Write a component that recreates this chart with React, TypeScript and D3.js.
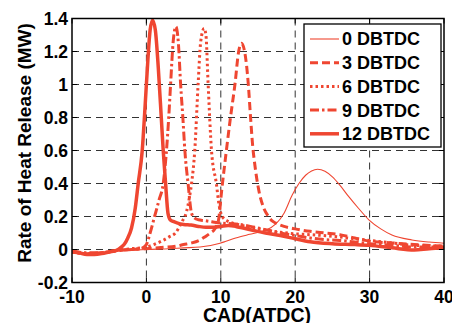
import React from "react";
import * as d3 from "d3";

const W = 452;
const H = 323;

const xTicks = [-10, 0, 10, 20, 30, 40];
const yTicks = [-0.2, 0, 0.2, 0.4, 0.6, 0.8, 1, 1.2, 1.4];
const yTickLabels = ["-0.2", "0", "0.2", "0.4", "0.6", "0.8", "1", "1.2", "1.4"];

const seriesNames = ["0 DBTDC", "3 DBTDC", "6 DBTDC", "9 DBTDC", "12 DBTDC"];

const s0: [number, number][] = [
  [-10, -0.02], [-8, -0.03], [-6, -0.025], [-4, -0.01], [-2, -0.005], [0, 0.0], [3, 0.005],
  [5, 0.01], [7.2, 0.015], [9.9, 0.038], [10.7, 0.05], [12, 0.07], [13.9, 0.092], [15.1, 0.105],
  [16.1, 0.118], [17.4, 0.155], [18.5, 0.22], [19.6, 0.33], [20.5, 0.4], [21.4, 0.45],
  [22.2, 0.476], [23, 0.486], [24, 0.474], [25, 0.44], [26, 0.39], [27.2, 0.32], [28.5, 0.25],
  [29.9, 0.18], [31.5, 0.125], [33, 0.088], [35.7, 0.058], [38, 0.045], [40, 0.038],
];

const s3: [number, number][] = [
  [-10, -0.015], [-8, -0.025], [-6, -0.02], [-4, -0.008], [-2, 0.0], [0, 0.005], [2, 0.012],
  [4, 0.02], [5, 0.03], [6.1, 0.04], [7.2, 0.058], [7.9, 0.078], [8.6, 0.1], [9.2, 0.125],
  [9.7, 0.18], [10.1, 0.35], [10.75, 0.6], [11.3, 0.8], [11.9, 1.0], [12.4, 1.2], [12.78, 1.25],
  [13.2, 1.2], [13.7, 1.0], [14.0, 0.8], [14.3, 0.62], [14.5, 0.54], [15.1, 0.36], [15.7, 0.26],
  [16.4, 0.2], [17.0, 0.17], [17.6, 0.155], [18.5, 0.14], [20, 0.125], [22, 0.11], [24, 0.1],
  [26, 0.09], [28, 0.07], [30, 0.05], [33, 0.04], [36, 0.03], [40, 0.02],
];

const s6: [number, number][] = [
  [-10, -0.015], [-8, -0.025], [-6, -0.02], [-4, -0.005], [-2, 0.005], [0, 0.015], [1, 0.03],
  [2, 0.05], [3, 0.075], [3.9, 0.1], [4.8, 0.17], [5.4, 0.23], [5.8, 0.32], [6.07, 0.4],
  [6.5, 0.6], [6.95, 1.0], [7.3, 1.26], [7.76, 1.34], [8.0, 1.3], [8.3, 1.0], [8.75, 0.6],
  [9.4, 0.4], [9.8, 0.26], [10.2, 0.2], [11, 0.17], [12, 0.155], [14, 0.135], [16, 0.118],
  [18, 0.105], [20, 0.095], [22, 0.09], [25, 0.08], [28, 0.065], [30, 0.055], [33, 0.04],
  [36, 0.025], [40, 0.02],
];

const s9: [number, number][] = [
  [-10, -0.01], [-8, -0.02], [-6, -0.02], [-4, -0.005], [-2, 0.0], [-1, 0.005], [-0.5, 0.01],
  [0, 0.03], [0.5, 0.1], [1.1, 0.2], [1.7, 0.3], [2.26, 0.4], [2.7, 0.6], [3.0, 0.8],
  [3.25, 1.0], [3.6, 1.26], [3.96, 1.35], [4.3, 1.25], [4.6, 1.0], [4.9, 0.8], [5.17, 0.6],
  [5.6, 0.4], [6.07, 0.22], [6.5, 0.19], [7, 0.18], [7.8, 0.175], [8.8, 0.168], [10, 0.16],
  [12, 0.155], [14, 0.14], [16, 0.12], [18, 0.1], [20, 0.085], [22, 0.07], [24, 0.06],
  [26, 0.055], [28, 0.045], [30, 0.035], [33, 0.025], [36, 0.015], [40, 0.015],
];

const s12: [number, number][] = [
  [-10, -0.01], [-9, -0.02], [-8, -0.03], [-7, -0.03], [-6, -0.025], [-5, -0.015], [-4, -0.005],
  [-3.5, 0.01], [-3, 0.03], [-2.5, 0.07], [-2, 0.13], [-1.5, 0.25], [-1.1, 0.4], [-0.56, 0.6],
  [-0.2, 0.85], [0.2, 1.15], [0.5, 1.33], [0.83, 1.39], [1.2, 1.33], [1.6, 1.1], [2.0, 0.8],
  [2.26, 0.6], [2.58, 0.4], [2.9, 0.22], [3.2, 0.18], [3.6, 0.17], [4.2, 0.16], [5, 0.152],
  [6, 0.148], [7, 0.14], [8, 0.135], [9, 0.135], [10, 0.14], [11, 0.145], [12, 0.14],
  [13, 0.13], [14, 0.12], [16, 0.1], [18, 0.085], [20, 0.065], [22, 0.047], [25, 0.035],
  [28, 0.03], [30, 0.025], [33, 0.01], [36, -0.003], [38, 0.005], [40, 0.01],
];

const seriesData = [s0, s3, s6, s9, s12];

const COLOR = "#ef4631";
const styles = [
  { width: 1.1, dash: "none" },
  { width: 3, dash: "8,4" },
  { width: 3, dash: "2.5,3" },
  { width: 3, dash: "9,3,2.5,3" },
  { width: 3.5, dash: "none" },
];

const L = 72, R = 444, T = 18.5, B = 282.5;
const FONT = "'Liberation Sans', Arial, sans-serif";

export default function App() {
  const x = d3.scaleLinear().domain([-10, 40]).range([L, R]);
  const y = d3.scaleLinear().domain([-0.2, 1.4]).range([B, T]);
  const line = d3
    .line<[number, number]>()
    .x((d) => x(d[0]))
    .y((d) => y(d[1]))
    .curve(d3.curveMonotoneX);

  const legendX = 304, legendY = 24, legendW = 137, legendH = 123;
  const rowY = (i: number) => 39 + i * 23.7;

  return (
    <svg
      width={W}
      height={H}
      style={{ position: "absolute", left: 0, top: 0, background: "#fff" }}
      fontFamily={FONT}
    >
      <defs>
        <clipPath id="plotclip">
          <rect x={L} y={T} width={R - L} height={B - T} />
        </clipPath>
      </defs>
      {/* grid */}
      {xTicks.slice(1, -1).map((t) => (
        <line key={"gx" + t} x1={x(t)} x2={x(t)} y1={T} y2={B} stroke="#333" strokeWidth={1} strokeDasharray="7,5" />
      ))}
      {yTicks.slice(1, -1).map((t) => (
        <line key={"gy" + t} x1={L} x2={R} y1={y(t)} y2={y(t)} stroke="#333" strokeWidth={1} strokeDasharray="7,5" />
      ))}
      {/* series */}
      <g clipPath="url(#plotclip)">
        {seriesData.map((d, i) => (
          <path
            key={i}
            d={line(d) || ""}
            fill="none"
            stroke={COLOR}
            strokeWidth={styles[i].width}
            strokeDasharray={styles[i].dash}
            strokeLinejoin="round"
          />
        ))}
      </g>
      {/* ticks */}
      {xTicks.map((t) => (
        <g key={"tx" + t}>
          <line x1={x(t)} x2={x(t)} y1={B} y2={B - 5} stroke="#000" strokeWidth={1} />
          <line x1={x(t)} x2={x(t)} y1={T} y2={T + 5} stroke="#000" strokeWidth={1} />
          <text x={x(t)} y={302.5} textAnchor="middle" fontSize={17.5} fontWeight="bold" fill="#000">
            {t}
          </text>
        </g>
      ))}
      {yTicks.map((t, i) => (
        <g key={"ty" + t}>
          <line x1={L} x2={L + 5} y1={y(t)} y2={y(t)} stroke="#000" strokeWidth={1} />
          <line x1={R} x2={R - 5} y1={y(t)} y2={y(t)} stroke="#000" strokeWidth={1} />
          <text x={68} y={y(t)} dy="0.36em" textAnchor="end" fontSize={17.5} fontWeight="bold" fill="#000">
            {yTickLabels[i]}
          </text>
        </g>
      ))}
      {/* frame */}
      <rect x={L} y={T} width={R - L} height={B - T} fill="none" stroke="#000" strokeWidth={1.5} />
      {/* axis labels */}
      <text x={257} y={322} textAnchor="middle" fontSize={19.5} fontWeight="bold" fill="#000">
        CAD(ATDC)
      </text>
      <text
        transform={`translate(31,143) rotate(-90)`}
        textAnchor="middle"
        fontSize={19}
        fontWeight="bold"
        fill="#000"
      >
        Rate of Heat Release (MW)
      </text>
      {/* legend */}
      <rect x={legendX} y={legendY} width={legendW} height={legendH} fill="#fff" stroke="#000" strokeWidth={1.3} />
      {seriesNames.map((n, i) => (
        <g key={n}>
          <line
            x1={310}
            x2={339}
            y1={rowY(i)}
            y2={rowY(i)}
            stroke={COLOR}
            strokeWidth={styles[i].width}
            strokeDasharray={styles[i].dash}
          />
          <text x={342} y={rowY(i)} dy="0.36em" fontSize={18} fontWeight="bold" fill="#000">
            {n}
          </text>
        </g>
      ))}
    </svg>
  );
}
